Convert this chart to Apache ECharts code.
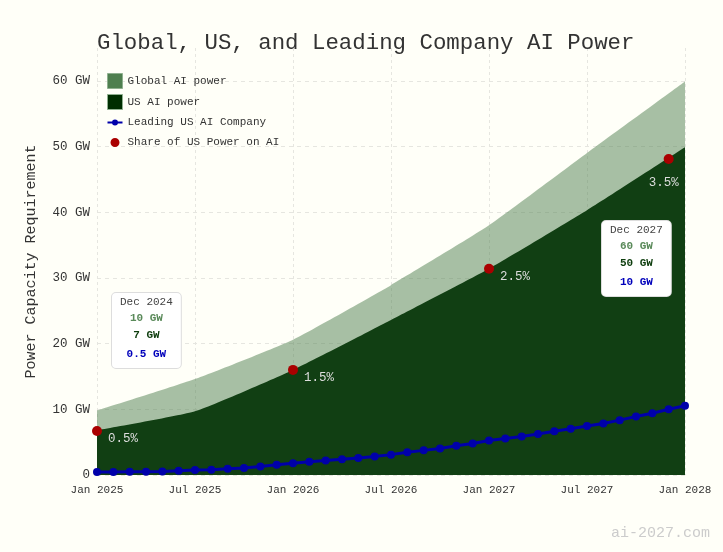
<!DOCTYPE html>
<html>
<head>
<meta charset="utf-8">
<title>Global, US, and Leading Company AI Power</title>
<script src="https://cdn.jsdelivr.net/npm/echarts@6/dist/echarts.min.js"></script>
<style>
html,body{margin:0;padding:0;background:#fffff8;}
#chart{width:723px;height:552px;}
</style>
</head>
<body>
<div id="chart"></div>
<script>
// x 轴刻度（每6个月一格）
var tickLabels = ['Jan 2025','Jul 2025','Jan 2026','Jul 2026','Jan 2027','Jul 2027','Jan 2028'];

// 面积图：每半年一个点（月份序号, 0 = Jan 2025）
var areaMonths = [0, 6, 12, 18, 24, 30, 36];
var globalGW   = [9.8, 14.6, 20.6, 28.9, 38.0, 49.0, 59.9];
var usGW       = [6.8, 9.7, 16.0, 23.6, 31.4, 40.3, 49.9];

// 领先公司：每月一个点
var leadMonths = [0,1,2,3,4,5,6,7,8,9,10,11,12,13,14,15,16,17,18,19,20,21,22,23,24,25,26,27,28,29,30,31,32,33,34,35,36];
var leadGW = [0.45,0.45,0.5,0.5,0.55,0.65,0.75,0.8,0.95,1.05,1.3,1.55,1.8,2.0,2.2,2.4,2.6,2.8,3.1,
              3.45,3.75,4.05,4.45,4.8,5.25,5.55,5.85,6.25,6.65,7.05,7.45,7.85,8.35,8.9,9.4,10.0,10.55];

// 美国电力用于AI的占比
var shareMonths = [0, 12, 24, 35];
var shareGW     = [6.7, 16.0, 31.4, 48.1];
var shareText   = ['0.5%', '1.5%', '2.5%', '3.5%'];

var FONT = '"Liberation Mono", "DejaVu Sans Mono", monospace';

function pairs(xs, ys){
	var out = [];
	for(var i=0; i<xs.length; i++){
		out.push([xs[i], ys[i]]);
	}
	return out;
}

var shareData = [];
for(var i=0; i<shareMonths.length; i++){
	var item = {value:[shareMonths[i], shareGW[i]], name:shareText[i]};
	if(i === shareMonths.length-1){//最后一个点标签放在下方
		item.label = {position: 'bottom', distance: 10, offset: [-5, 2]};
	}
	shareData.push(item);
}

// 提示框（静态注释）
function infoBox(x, y, date, g, u, l){
	return {
		type: 'text',
		left: x,
		top: y,
		z: 100,
		style: {
			text: '{d|'+date+'}\n{g|'+g+'}\n{u|'+u+'}\n{l|'+l+'}',
			align: 'center',
			backgroundColor: '#ffffff',
			borderColor: '#dddddd',
			borderWidth: 1,
			borderRadius: 4,
			padding: [2, 8, 5, 8],
			rich: {
				d: {fontFamily: FONT, fontSize: 11, fill: '#444', lineHeight: 15, align: 'center'},
				g: {fontFamily: FONT, fontSize: 11, fontWeight: 'bold', fill: '#5a8a5a', lineHeight: 16, align: 'center'},
				u: {fontFamily: FONT, fontSize: 11, fontWeight: 'bold', fill: '#0d3d0d', lineHeight: 19, align: 'center'},
				l: {fontFamily: FONT, fontSize: 11, fontWeight: 'bold', fill: '#0000bb', lineHeight: 18, align: 'center'}
			}
		}
	};
}

var myChart = echarts.init(document.getElementById('chart'));
var option = {
	backgroundColor: '#fffff8',
	animation: false,
	textStyle: {fontFamily: FONT},
	title: {
		text: 'Global, US, and Leading Company AI Power',
		left: 92,
		top: 27,
		textStyle: {fontFamily: FONT, fontSize: 22.4, fontWeight: 'normal', color: '#333'}
	},
	legend: {
		orient: 'vertical',
		left: 102,
		top: 68,
		itemWidth: 15,
		itemHeight: 15,
		itemGap: 5,
		itemTextGap: 6,
		textStyle: {fontFamily: FONT, fontSize: 11, color: '#333'},
		data: [
			{name: 'Global AI power', icon: 'rect', itemStyle: {color: '#4f7f4f', borderColor: '#8fb08f', borderWidth: 1}},
			{name: 'US AI power', icon: 'rect', itemStyle: {color: '#002e00', borderColor: '#8fb08f', borderWidth: 1}},
			{name: 'Leading US AI Company', icon: 'path://M0 0M15 15M0 6.5h15v2h-15zM7.5 10.5a3 3 0 1 1 0.001 0z'},
			{name: 'Share of US Power on AI', icon: 'path://M0 0M15 15M7.5 12a4.5 4.5 0 1 1 0.001 0z'}
		]
	},
	grid: {left: 97, right: 38, top: 48, bottom: 77},
	xAxis: {
		type: 'value',
		min: 0,
		max: 36,
		interval: 6,
		axisLine: {show: false},
		axisTick: {show: false},
		axisLabel: {
			fontFamily: FONT, fontSize: 11, color: '#333', margin: 10,
			formatter: function(v){ return tickLabels[v/6] || ''; }
		},
		splitLine: {show: true, lineStyle: {color: '#e6e6e0', type: [3, 3]}}
	},
	yAxis: {
		type: 'value',
		min: 0,
		max: 65,
		interval: 10,
		name: 'Power Capacity Requirement',
		nameLocation: 'middle',
		nameGap: 58,
		nameTextStyle: {fontFamily: FONT, fontSize: 15, color: '#333'},
		axisLine: {show: false},
		axisTick: {show: false},
		axisLabel: {
			fontFamily: FONT, fontSize: 12.5, color: '#333', margin: 7, showMaxLabel: false,
			formatter: function(v){ return v === 0 ? '0' : v + ' GW'; }
		},
		splitLine: {show: true, showMaxLine: false, lineStyle: {color: '#e6e6e0', type: [4, 4]}}
	},
	series: [
		{
			name: 'Global AI power',
			type: 'line',
			data: pairs(areaMonths, globalGW),
			smooth: 0.15,
			symbol: 'none',
			lineStyle: {width: 0},
			itemStyle: {color: '#4f7f4f'},
			areaStyle: {color: '#4f7f4f', opacity: 0.5},
			z: 1
		},
		{
			name: 'US AI power',
			type: 'line',
			data: pairs(areaMonths, usGW),
			smooth: 0.15,
			symbol: 'none',
			lineStyle: {width: 0},
			itemStyle: {color: '#002e00'},
			areaStyle: {color: '#113f13', opacity: 1},
			z: 2
		},
		{
			name: 'Leading US AI Company',
			type: 'line',
			data: pairs(leadMonths, leadGW),
			symbol: 'circle',
			symbolSize: 8,
			itemStyle: {color: '#0000aa'},
			lineStyle: {color: '#0000aa', width: 3},
			z: 3
		},
		{
			name: 'Share of US Power on AI',
			type: 'scatter',
			data: shareData,
			symbolSize: 10,
			itemStyle: {color: '#aa0000', opacity: 1},
			label: {
				show: true,
				position: 'right',
				distance: 6,
				offset: [0, 8],
				formatter: '{b}',
				fontFamily: FONT,
				fontSize: 12.5,
				color: '#dddddd'
			},
			z: 4
		}
	],
	graphic: [
		infoBox(111, 292, 'Dec 2024', '10 GW', '7 GW', '0.5 GW'),
		infoBox(601, 220, 'Dec 2027', '60 GW', '50 GW', '10 GW'),
		{
			type: 'text',
			right: 13,
			top: 526,
			style: {text: 'ai-2027.com', fontFamily: FONT, fontSize: 15, fill: '#cccccc'}
		}
	]
};

myChart.setOption(option);
window.onresize = myChart.resize;
</script>
</body>
</html>
